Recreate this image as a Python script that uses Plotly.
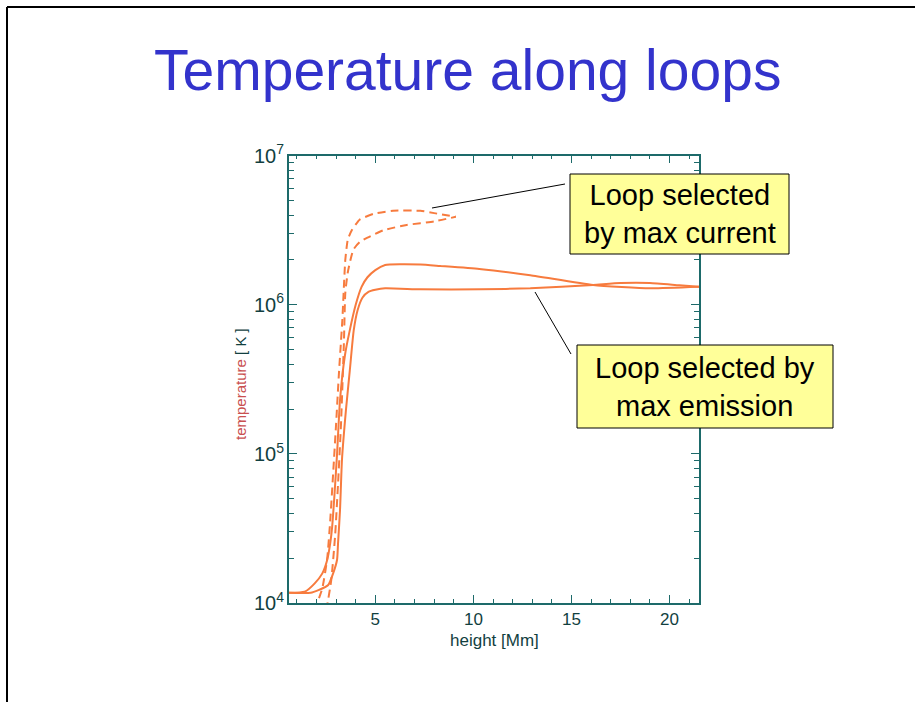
import plotly.graph_objects as go

W, H = 915, 702

# Loop selected by max emission (solid): height [Mm] and temperature [K]
emis_hi_x = [0.6, 1.4, 1.9, 2.3, 2.55, 2.7, 2.8, 2.9, 3.05, 3.2, 3.45, 3.7, 4.0,
             4.3, 4.6, 5.0, 5.5, 6.3, 7.3, 8.3, 10.3, 12.9, 16.1, 19.0, 21.5]
emis_hi_t = [11700, 11900, 13500, 15800, 19500, 25100, 32400, 49000, 100000,
             229000, 457000, 676000, 1.00e6, 1.32e6, 1.53e6, 1.71e6, 1.85e6,
             1.87e6, 1.86e6, 1.82e6, 1.74e6, 1.58e6, 1.36e6, 1.29e6, 1.32e6]

emis_lo_x = [0.6, 1.7, 2.1, 2.6, 2.85, 3.05, 3.1, 3.2, 3.3, 3.5, 3.7, 3.9, 4.1,
             4.35, 4.65, 5.0, 5.5, 7.3, 10.4, 12.9, 16.1, 17.5, 19.0, 20.5, 21.5]
emis_lo_t = [11700, 11700, 12200, 13200, 15800, 19500, 25100, 41700, 91200,
             195000, 363000, 676000, 923000, 1.12e6, 1.22e6, 1.26e6, 1.29e6,
             1.27e6, 1.27e6, 1.29e6, 1.36e6, 1.40e6, 1.40e6, 1.35e6, 1.32e6]

# Loop selected by max current (dashed)
curr_hi_x = [1.9, 2.3, 2.55, 2.7, 2.86, 3.0, 3.15, 3.32, 3.47, 3.6, 3.8, 4.2,
             4.9, 5.9, 7.3, 8.0, 9.1]
curr_hi_t = [8900, 12600, 20000, 35500, 77600, 158000, 355000, 794000, 2.0e6,
             2.75e6, 3.16e6, 3.72e6, 4.07e6, 4.27e6, 4.27e6, 4.12e6, 3.89e6]

curr_lo_x = [2.5, 2.75, 2.95, 3.1, 3.25, 3.4, 3.47, 3.6, 3.88, 4.2, 4.6, 5.4,
             6.6, 8.0, 9.1]
curr_lo_t = [8900, 14100, 28200, 63100, 158000, 562000, 1.20e6, 1.66e6,
             2.34e6, 2.63e6, 2.82e6, 3.16e6, 3.43e6, 3.63e6, 3.89e6]

x_ticks = [5, 10, 15, 20]

LINE = "#f77b3e"
AXIS = "#1d6a6a"
TICKTXT = "#123f3f"
FONT = "Liberation Sans, Arial, sans-serif"


def px(x, y):
    """Pixel position -> paper coordinates (margins are zero)."""
    return x / W, 1 - y / H


fig = go.Figure()
for xs, ts, dash in [(emis_hi_x, emis_hi_t, "solid"), (emis_lo_x, emis_lo_t, "solid"),
                     (curr_hi_x, curr_hi_t, "8px,5px"), (curr_lo_x, curr_lo_t, "8px,5px")]:
    fig.add_trace(go.Scatter(x=xs, y=ts, mode="lines",
                             line=dict(color=LINE, width=2, dash=dash,
                                       shape="spline", smoothing=0.5),
                             showlegend=False, hoverinfo="skip"))

x0, y0 = px(289, 603)
x1, y1 = px(699, 155.7)

fig.update_xaxes(domain=[x0, x1], range=[0.6, 21.5], tickvals=x_ticks,
                 automargin=False,
                 showline=True, linecolor=AXIS, linewidth=1.5, mirror="ticks",
                 ticks="inside", ticklen=8, tickwidth=1.2, tickcolor=AXIS,
                 minor=dict(dtick=1, ticks="inside", ticklen=4, tickcolor=AXIS,
                            tickwidth=1.2),
                 showgrid=False, zeroline=False,
                 tickfont=dict(family=FONT, size=17, color=TICKTXT))
fig.update_yaxes(domain=[y0, y1], type="log", range=[4, 7], dtick=1,
                 exponentformat="power", automargin=False,
                 showline=True, linecolor=AXIS, linewidth=1.5, mirror="ticks",
                 ticks="inside", ticklen=8, tickwidth=1.2, tickcolor=AXIS,
                 minor=dict(dtick="D1", ticks="inside", ticklen=5, tickcolor=AXIS,
                            tickwidth=1.2),
                 showgrid=False, zeroline=False,
                 tickfont=dict(family=FONT, size=16, color=TICKTXT))

annotations = []
# slide title
tx, ty = px(468, 70)
annotations.append(dict(x=tx, y=ty, xref="paper", yref="paper", showarrow=False,
                        text="Temperature along loops", xanchor="center",
                        yanchor="middle",
                        font=dict(family=FONT, size=57, color="#3333cc")))
# axis titles
ax, ay = px(494, 640)
annotations.append(dict(x=ax, y=ay, xref="paper", yref="paper", showarrow=False,
                        text="height [Mm]", xanchor="center", yanchor="middle",
                        font=dict(family=FONT, size=17, color=TICKTXT)))
bx, by = px(240, 384)
annotations.append(dict(x=bx, y=by, xref="paper", yref="paper", showarrow=False,
                        text="<span style='color:#c95050'>temperature</span> [ K ]",
                        textangle=-90, xanchor="center", yanchor="middle",
                        font=dict(family=FONT, size=15, color=TICKTXT)))

shapes = []
# slide frame (left and top edges)
fx, fy_top = px(7, 7)
shapes.append(dict(type="line", xref="paper", yref="paper", x0=fx, y0=0,
                   x1=fx, y1=fy_top, line=dict(color="black", width=2)))
shapes.append(dict(type="line", xref="paper", yref="paper", x0=fx, y0=fy_top,
                   x1=1, y1=fy_top, line=dict(color="black", width=2)))

# callout boxes with pointer lines
callouts = [
    ((570, 174, 789, 254), "Loop selected<br>by max current", (432, 208), (565, 184)),
    ((577, 345, 833, 428), "Loop selected by<br>max emission", (535, 292), (571, 354)),
]
for (l, t, r, b), text, p_from, p_to in callouts:
    a0, a1 = px(*p_from), px(*p_to)
    shapes.append(dict(type="line", xref="paper", yref="paper", x0=a0[0], y0=a0[1],
                       x1=a1[0], y1=a1[1], line=dict(color="black", width=1)))
    r0, r1 = px(l, b), px(r, t)
    shapes.append(dict(type="rect", xref="paper", yref="paper", x0=r0[0], y0=r0[1],
                       x1=r1[0], y1=r1[1], fillcolor="#ffff99",
                       line=dict(color="black", width=1)))
    cx, cy = px((l + r) / 2, (t + b) / 2)
    annotations.append(dict(x=cx, y=cy, xref="paper", yref="paper", showarrow=False,
                            text=text, xanchor="center", yanchor="middle",
                            font=dict(family=FONT, size=29, color="black")))

fig.update_layout(width=W, height=H,
                  margin=dict(l=0, r=0, t=0, b=0, pad=0, autoexpand=False),
                  paper_bgcolor="white", plot_bgcolor="white",
                  annotations=annotations, shapes=shapes)

fig.write_html("out.html")
